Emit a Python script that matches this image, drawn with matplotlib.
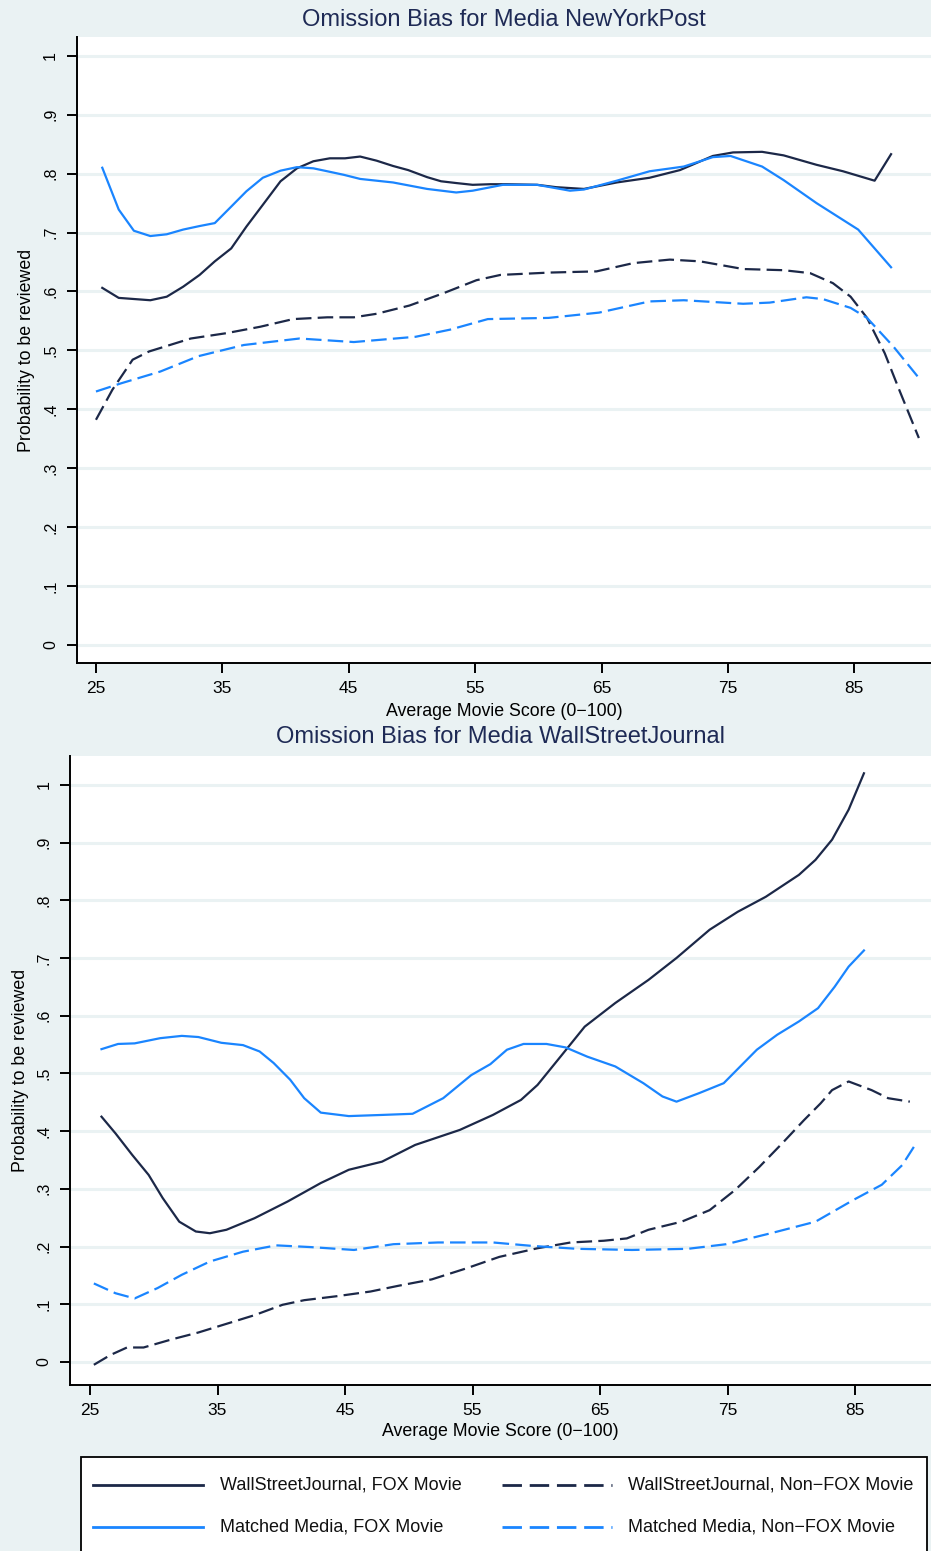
import matplotlib
matplotlib.use('Agg')
import matplotlib.pyplot as plt
from matplotlib.lines import Line2D
from matplotlib.patches import Rectangle

plt.rcParams['font.family'] = ['Liberation Sans', 'DejaVu Sans']

BG = '#eaf2f3'
NAVY = '#1c2848'
BLUE = '#1a85ff'

# ---- NewYorkPost panel ----
nyp_fox_x = [25.5, 26.8, 29.3, 30.6, 31.9, 33.2, 34.4, 35.7, 36.9, 38.2, 39.6, 40.9, 42.2, 43.5,
             44.7, 45.9, 47.2, 48.5, 49.7, 51.2, 52.3, 53.5, 54.8, 56.2, 57.5, 59.9, 61.4, 63.6,
             66.2, 68.8, 71.2, 73.8, 75.4, 77.7, 79.4, 82.0, 84.1, 86.6, 87.9]
nyp_fox_y = [0.606, 0.589, 0.585, 0.591, 0.608, 0.628, 0.651, 0.673, 0.710, 0.747, 0.787, 0.809,
             0.821, 0.826, 0.826, 0.829, 0.822, 0.813, 0.806, 0.794, 0.787, 0.784, 0.781, 0.782,
             0.782, 0.781, 0.777, 0.774, 0.785, 0.793, 0.806, 0.830, 0.836, 0.837, 0.831, 0.815,
             0.804, 0.788, 0.833]

nyp_match_fox_x = [25.5, 26.8, 28.0, 29.3, 30.6, 31.9, 33.2, 34.4, 35.7, 36.9, 38.2, 39.6, 40.9,
                   42.2, 43.3, 44.6, 45.9, 48.5, 51.2, 53.5, 54.8, 57.2, 59.9, 62.5, 63.6, 66.2,
                   68.8, 71.5, 73.8, 75.2, 77.7, 79.4, 82.0, 85.3, 87.9]
nyp_match_fox_y = [0.810, 0.739, 0.703, 0.694, 0.697, 0.705, 0.711, 0.716, 0.744, 0.770, 0.793,
                   0.805, 0.811, 0.809, 0.804, 0.798, 0.791, 0.785, 0.774, 0.768, 0.771, 0.781,
                   0.781, 0.771, 0.773, 0.788, 0.804, 0.812, 0.828, 0.830, 0.812, 0.789, 0.750,
                   0.705, 0.641]

nyp_nonfox_x = [25.0, 26.3, 27.9, 29.2, 30.1, 32.5, 35.3, 38.0, 40.6, 43.3, 45.4, 47.2, 49.8,
                52.5, 55.1, 57.0, 60.9, 64.6, 67.5, 70.4, 72.8, 76.2, 79.4, 81.5, 83.3, 84.7,
                86.0, 87.4, 88.6, 90.1]
nyp_nonfox_y = [0.382, 0.433, 0.484, 0.498, 0.504, 0.520, 0.529, 0.540, 0.553, 0.556, 0.556,
                0.562, 0.576, 0.597, 0.619, 0.628, 0.632, 0.634, 0.648, 0.654, 0.651, 0.638,
                0.636, 0.631, 0.614, 0.591, 0.555, 0.495, 0.430, 0.351]

nyp_match_nonfox_x = [25.0, 27.0, 30.1, 33.1, 36.7, 41.1, 45.4, 50.3, 53.0, 56.0, 60.8, 64.8,
                      68.8, 71.5, 76.2, 78.3, 81.2, 82.5, 84.7, 86.0, 88.1, 90.1]
nyp_match_nonfox_y = [0.430, 0.444, 0.464, 0.490, 0.509, 0.520, 0.514, 0.523, 0.535, 0.553,
                      0.555, 0.564, 0.583, 0.585, 0.579, 0.581, 0.590, 0.587, 0.572, 0.555,
                      0.506, 0.453]

# ---- WallStreetJournal panel ----
wsj_fox_x = [25.9, 27.0, 28.3, 29.6, 30.7, 32.0, 33.3, 34.4, 35.7, 37.9, 40.5, 43.1, 45.3, 47.9,
             50.5, 54.0, 56.6, 58.8, 60.1, 61.9, 63.8, 66.2, 68.8, 71.0, 73.6, 75.8, 78.0, 80.6,
             81.9, 83.2, 84.5, 85.7]
wsj_fox_y = [0.425, 0.396, 0.359, 0.324, 0.284, 0.243, 0.226, 0.223, 0.229, 0.249, 0.278, 0.310,
             0.333, 0.347, 0.376, 0.402, 0.428, 0.454, 0.480, 0.529, 0.581, 0.622, 0.662, 0.700,
             0.749, 0.780, 0.806, 0.844, 0.870, 0.905, 0.957, 1.020]

wsj_match_fox_x = [25.9, 27.2, 28.5, 30.5, 32.2, 33.5, 35.3, 37.0, 38.3, 39.4, 40.7, 41.8, 43.1,
                   45.3, 47.9, 50.3, 52.7, 54.9, 56.4, 57.7, 59.0, 60.8, 62.3, 64.0, 66.2, 68.4,
                   69.9, 71.0, 72.8, 74.7, 76.0, 77.3, 78.9, 80.6, 82.1, 83.4, 84.5, 85.7]
wsj_match_fox_y = [0.542, 0.551, 0.552, 0.561, 0.565, 0.563, 0.553, 0.549, 0.538, 0.518, 0.489,
                   0.457, 0.432, 0.426, 0.428, 0.430, 0.457, 0.497, 0.516, 0.541, 0.551, 0.551,
                   0.545, 0.529, 0.512, 0.483, 0.460, 0.451, 0.466, 0.483, 0.512, 0.541, 0.567,
                   0.590, 0.613, 0.650, 0.685, 0.713]

wsj_nonfox_x = [25.3, 26.6, 27.9, 29.2, 31.4, 33.5, 35.7, 37.9, 40.1, 41.8, 44.4, 47.0, 49.2,
                51.8, 54.5, 57.1, 60.1, 62.7, 65.3, 67.1, 68.8, 71.4, 73.6, 75.6, 77.5, 79.3,
                81.0, 82.3, 83.2, 84.5, 86.3, 87.6, 89.3]
wsj_nonfox_y = [-0.005, 0.012, 0.025, 0.025, 0.039, 0.051, 0.066, 0.081, 0.099, 0.107, 0.114,
                0.122, 0.132, 0.143, 0.162, 0.182, 0.197, 0.207, 0.210, 0.214, 0.229, 0.243,
                0.263, 0.298, 0.338, 0.379, 0.419, 0.448, 0.471, 0.486, 0.471, 0.457, 0.451]

wsj_match_nonfox_x = [25.3, 27.0, 28.5, 30.3, 32.2, 34.4, 37.0, 39.6, 42.3, 45.7, 48.8, 52.3,
                      56.6, 59.7, 63.2, 67.5, 71.9, 74.9, 78.4, 81.9, 84.9, 87.1, 88.7, 89.8]
wsj_match_nonfox_y = [0.136, 0.119, 0.110, 0.128, 0.151, 0.174, 0.191, 0.202, 0.199, 0.194,
                      0.204, 0.207, 0.207, 0.201, 0.196, 0.194, 0.196, 0.204, 0.223, 0.243,
                      0.281, 0.307, 0.341, 0.379]

xticks = [25, 35, 45, 55, 65, 75, 85]
yticks = [0, 0.1, 0.2, 0.3, 0.4, 0.5, 0.6, 0.7, 0.8, 0.9, 1.0]
ytick_labels = ['0', '.1', '.2', '.3', '.4', '.5', '.6', '.7', '.8', '.9', '1']

legend_labels = ['WallStreetJournal, FOX Movie', 'WallStreetJournal, Non\u2212FOX Movie',
                 'Matched Media, FOX Movie', 'Matched Media, Non\u2212FOX Movie']

W, H = 931, 1551
fig = plt.figure(figsize=(W / 100, H / 100), dpi=100, facecolor=BG)

dash = (0, (7, 2.8))
LW = 1.6


def style_axes(ax, xlim, ylim, xlab_y, ylab_x):
    ax.set_facecolor('white')
    ax.set_xlim(*xlim)
    ax.set_ylim(*ylim)
    ax.set_xticks(xticks)
    ax.set_yticks(yticks)
    ax.set_yticklabels(ytick_labels, rotation=90, va='center')
    for s in ['top', 'right']:
        ax.spines[s].set_visible(False)
    for s in ['left', 'bottom']:
        ax.spines[s].set_linewidth(1.4)
        ax.spines[s].set_color('black')
    ax.tick_params(axis='both', direction='out', length=7.5, width=1.4, pad=5)
    ax.tick_params(axis='x', labelsize=12.5, pad=5.5)
    ax.tick_params(axis='y', labelsize=11.5, pad=6)
    ax.grid(axis='y', color=BG, linewidth=2.2)
    ax.set_axisbelow(True)
    ax.set_xlabel('Average Movie Score (0\u2212100)', fontsize=12.8)
    ax.set_ylabel('Probability to be reviewed', fontsize=12.8)
    ax.xaxis.set_label_coords(0.5, xlab_y)
    ax.yaxis.set_label_coords(ylab_x, 0.5)
    ax.xaxis.label.set_va('center')
    ax.yaxis.label.set_va('center')


# top panel
ax1 = fig.add_axes([77 / W, 1 - 663 / H, 1 - 77 / W, (663 - 37) / H])
style_axes(ax1, (23.5, 91.06), (-0.031, 1.032), -(712 - 663) / 626, (27 - 77) / 854)
ax1.plot(nyp_fox_x, nyp_fox_y, color=NAVY, lw=LW)
ax1.plot(nyp_match_fox_x, nyp_match_fox_y, color=BLUE, lw=LW)
ax1.plot(nyp_nonfox_x, nyp_nonfox_y, color=NAVY, lw=LW, linestyle=dash)
ax1.plot(nyp_match_nonfox_x, nyp_match_nonfox_y, color=BLUE, lw=LW, linestyle=dash)
fig.text((77 + W) / 2 / W, 1 - 20 / H, 'Omission Bias for Media NewYorkPost',
         ha='center', va='center', fontsize=17, color='#1e2a55')

# bottom panel
ax2 = fig.add_axes([70 / W, 1 - 1385 / H, 1 - 70 / W, (1385 - 756) / H])
style_axes(ax2, (23.43, 90.96), (-0.040, 1.050), -(1432 - 1385) / 629, (21 - 70) / 861)
ax2.plot(wsj_fox_x, wsj_fox_y, color=NAVY, lw=LW)
ax2.plot(wsj_match_fox_x, wsj_match_fox_y, color=BLUE, lw=LW)
ax2.plot(wsj_nonfox_x, wsj_nonfox_y, color=NAVY, lw=LW, linestyle=dash)
ax2.plot(wsj_match_nonfox_x, wsj_match_nonfox_y, color=BLUE, lw=LW, linestyle=dash)
fig.text((70 + W) / 2 / W, 1 - 737 / H, 'Omission Bias for Media WallStreetJournal',
         ha='center', va='center', fontsize=17, color='#1e2a55')

# legend box drawn in figure pixels (bottom edge runs off the figure as in the original)
fig.add_artist(Rectangle((81 / W, -0.02), (927 - 81) / W, 1 - 1457 / H + 0.02,
                         transform=fig.transFigure, facecolor='white', edgecolor='black',
                         linewidth=1.3, zorder=1))
legend_styles = [(NAVY, '-'), (NAVY, dash), (BLUE, '-'), (BLUE, dash)]
handle_x = [(93, 203), (502, 612)]
text_x = [220, 628]
row_y = [1485, 1527]
for i, (lab, (col, ls)) in enumerate(zip(legend_labels, legend_styles)):
    r, c = divmod(i, 2)
    x0, x1 = handle_x[c]
    yy = 1 - row_y[r] / H
    fig.add_artist(Line2D([x0 / W, x1 / W], [yy, yy], transform=fig.transFigure,
                          color=col, lw=2, linestyle=ls, zorder=2))
    fig.text(text_x[c] / W, yy, lab, ha='left', va='center', fontsize=13, color='#111111',
             zorder=3)

fig.savefig('out.png', dpi=100, facecolor=BG)
